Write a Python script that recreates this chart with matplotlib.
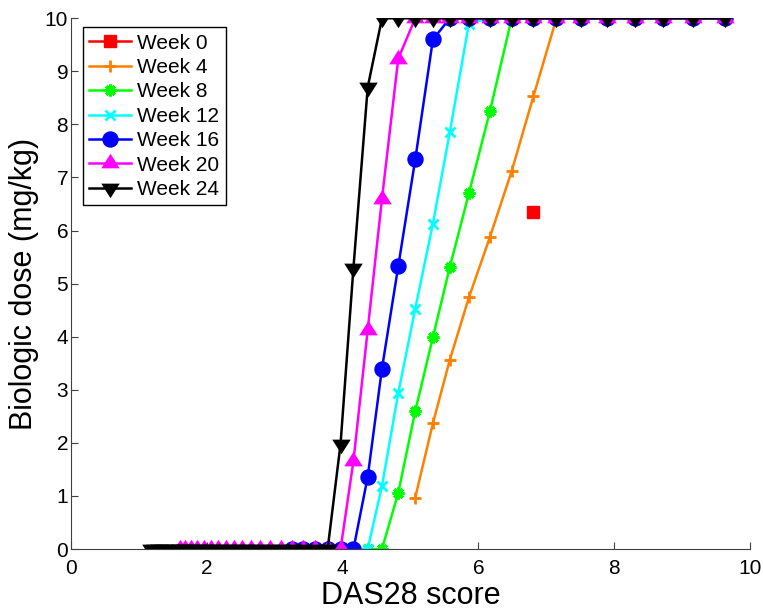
import numpy as np
import matplotlib
matplotlib.use('Agg')
import matplotlib.pyplot as plt
from matplotlib.path import Path

plt.rcParams['font.family'] = ['Liberation Sans', 'DejaVu Sans']

# DAS28 grid shared by all curves
das28 = [1.18, 1.24, 1.30, 1.37, 1.44, 1.52, 1.60, 1.68, 1.77, 1.86, 1.96, 2.06,
         2.17, 2.28, 2.40, 2.52, 2.65, 2.79, 2.93, 3.09, 3.25, 3.42, 3.59, 3.78,
         3.97, 4.16, 4.37, 4.58, 4.82, 5.07, 5.33, 5.58, 5.86, 6.17, 6.49, 6.81,
         7.15, 7.51, 7.89, 8.31, 8.72, 9.16, 9.63]

# doses, each list covers the last len(list) points of the grid
week0_x = [6.80]
week0 = [6.35]
week4 = [0.97, 2.37, 3.57, 4.74, 5.88, 7.12, 8.53,
         10, 10, 10, 10, 10, 10, 10]
week8 = [0, 0, 0, 0, 0, 0,
         1.06, 2.60, 3.99, 5.32, 6.70, 8.25,
         10, 10, 10, 10, 10, 10, 10, 10, 10]
week12 = [0, 0, 0, 0, 0, 0,
          1.19, 2.94, 4.53, 6.13, 7.86, 9.9,
          10, 10, 10, 10, 10, 10, 10, 10, 10, 10]
week16 = [0, 0, 0, 0, 0, 0,
          1.36, 3.40, 5.33, 7.34, 9.60,
          10, 10, 10, 10, 10, 10, 10, 10, 10, 10, 10, 10]
week20 = [0, 0, 0, 0, 0, 0, 0, 0, 0, 0, 0, 0, 0, 0, 0, 0, 0, 0, 0,
          1.66, 4.13, 6.60, 9.24,
          10, 10, 10, 10, 10, 10, 10, 10, 10, 10, 10, 10, 10, 10]
week24 = [0, 0, 0, 0, 0, 0, 0, 0, 0, 0, 0, 0, 0, 0, 0, 0, 0, 0, 0, 0, 0, 0, 0, 0,
          1.98, 5.30, 8.70,
          10, 10, 10, 10, 10, 10, 10, 10, 10, 10, 10, 10, 10, 10, 10, 10]

# matlab-like triangles (centred on the centroid)
tri_up = Path([(0, 1), (-0.95, -0.5), (0.95, -0.5), (0, 1)],
              [Path.MOVETO, Path.LINETO, Path.LINETO, Path.CLOSEPOLY])
tri_down = Path([(0, -1), (-0.95, 0.5), (0.95, 0.5), (0, -1)],
                [Path.MOVETO, Path.LINETO, Path.LINETO, Path.CLOSEPOLY])

fig = plt.figure(figsize=(7.63, 6.09), dpi=100)
ax = fig.add_axes([0.093, 0.0985, 0.890, 0.8715])

lw = 1.8
ax.plot(week0_x, week0, color='#ff0000', marker='s', ms=9, lw=lw, label='Week 0')
ax.plot(das28[-len(week4):], week4, color='#ff8000', marker='+', ms=9, mew=2,
        lw=lw, label='Week 4')
ax.plot(das28[-len(week8):], week8, color='#00ff00', marker=(8, 2, 0), ms=8.5,
        mew=2.2, lw=lw, label='Week 8')
ax.plot(das28[-len(week12):], week12, color='#00ffff', marker='x', ms=7.5, mew=2,
        lw=lw, label='Week 12')
ax.plot(das28[-len(week16):], week16, color='#0000ff', marker='o', ms=10.8,
        lw=lw, label='Week 16')
ax.plot(das28[-len(week20):], week20, color='#ff00ff', marker=tri_up, ms=14,
        mew=0, lw=lw, label='Week 20')
ax.plot(das28[-len(week24):], week24, color='#000000', marker=tri_down, ms=14,
        mew=0, lw=lw, label='Week 24')

ax.set_xlim(0, 10)
ax.set_ylim(0, 10)
ax.set_xticks([0, 2, 4, 6, 8, 10])
ax.set_yticks(range(0, 11))
ax.tick_params(direction='in', length=5, width=0.8, colors='#404040',
               labelsize=15, labelcolor='k')
ax.tick_params(axis='y', pad=2)
ax.tick_params(axis='x', pad=7)
for s in ['top', 'right']:
    ax.spines[s].set_visible(False)
for s in ['left', 'bottom']:
    ax.spines[s].set_color('#404040')
    ax.spines[s].set_linewidth(0.8)
ax.set_xlabel('DAS28 score', fontsize=22, labelpad=2)
ax.set_ylabel('Biologic dose (mg/kg)', fontsize=22, labelpad=4)

leg = ax.legend(loc='upper left', bbox_to_anchor=(0.0177, 0.983), borderaxespad=0,
                fontsize=15, handlelength=2.0, labelspacing=0.26,
                fancybox=False, edgecolor='k', framealpha=1, borderpad=0.3,
                handletextpad=0.3)
leg.get_frame().set_linewidth(1.0)

fig.savefig('out.png', dpi=100)
